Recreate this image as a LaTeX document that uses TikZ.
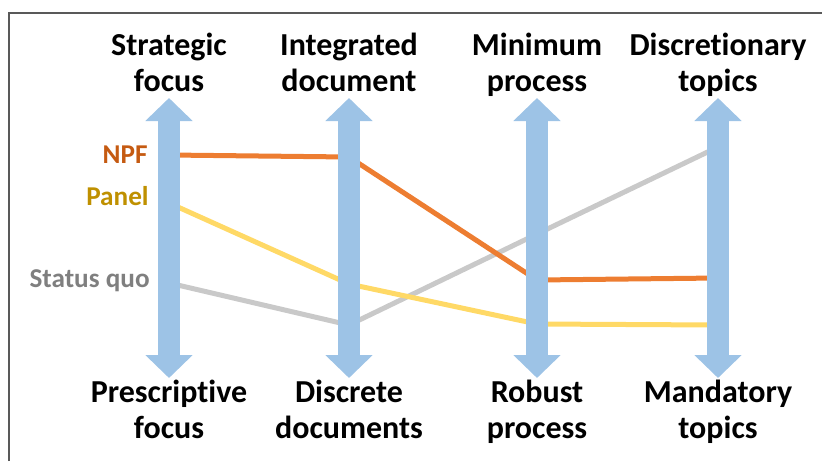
\documentclass[tikz,border=0pt]{standalone}
\usepackage{fontspec}
\setmainfont{Carlito}[Ligatures=NoCommon]
\usetikzlibrary{arrows.meta}
\definecolor{npf}{HTML}{ED7D31}
\definecolor{npftext}{HTML}{C55A11}
\definecolor{panel}{HTML}{FFD966}
\definecolor{paneltext}{HTML}{BF9000}
\definecolor{quo}{HTML}{C9C9C9}
\definecolor{quotext}{HTML}{7F7F7F}
\definecolor{axisblue}{HTML}{9DC3E6}
\tikzset{
    axisarrow/.style={axisblue,line width=11pt,
        {Triangle[width=23pt,length=11.5pt]}-{Triangle[width=23pt,length=11.5pt]}},
    series/.style={line width=2.5pt},
    pole/.style={font=\fontsize{16}{18}\selectfont\bfseries,align=center,inner sep=0pt,anchor=base},
    tag/.style={font=\fontsize{13.6}{16}\selectfont\bfseries,inner sep=0pt,anchor=base east}
}

\begin{document}
\begin{tikzpicture}[x=0.5pt,y=-0.5pt]
    \useasboundingbox (0,0) rectangle (822,461);
    \draw [black!65,line width=0.75pt] (9,461) -- (9,13) -- (822,13);
    % axes
    \foreach \x/\n in {169/1,349/2,537/3,718/4} {
        \coordinate (top\n) at (\x,98);
        \coordinate (bot\n) at (\x,378);
    }
    % series
    \foreach \s/\a/\b/\c/\d in {quo/283/325/234/147, panel/203/284/324/325, npf/155/157/280/278} {
        \coordinate (\s1) at (169,\a);
        \coordinate (\s2) at (349,\b);
        \coordinate (\s3) at (537,\c);
        \coordinate (\s4) at (718,\d);
        \draw [series,\s] (\s1) -- (\s2) -- (\s3) -- (\s4);
    }
    \foreach \n in {1,...,4} {
        \draw [axisarrow] (top\n) -- (bot\n);
    }
    % poles
    \node [pole] (strategic) at (169,91) {Strategic\\focus};
    \node [pole] (integrated) at (349,91) {Integrated\\document};
    \node [pole] (minimum) at (537,91) {Minimum\\process};
    \node [pole] (discretionary) at (718,91) {Discretionary\\topics};
    \node [pole] (prescriptive) at (169,438) {Prescriptive\\focus};
    \node [pole] (discrete) at (349,438) {Discrete\\documents};
    \node [pole] (robust) at (537,438) {Robust\\process};
    \node [pole] (mandatory) at (718,438) {Mandatory\\topics};
    % legend
    \node [tag,npftext] (npflabel) at (148,163) {NPF};
    \node [tag,paneltext] (panellabel) at (149,205) {Panel};
    \node [tag,quotext] (quolabel) at (150,287) {Status quo};
\end{tikzpicture}
\end{document}
